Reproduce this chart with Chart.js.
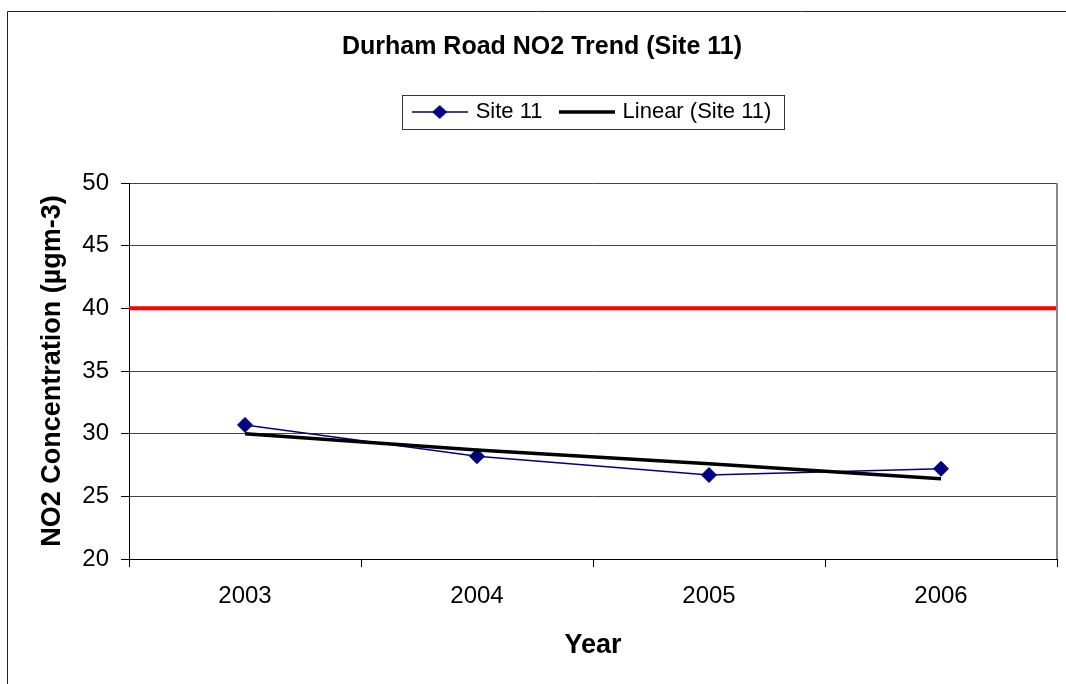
<!DOCTYPE html>
<html>
<head>
<meta charset="utf-8">
<script src="https://cdn.jsdelivr.net/npm/chart.js@4.4.1/dist/chart.umd.min.js"></script>
<style>
  html, body { margin: 0; padding: 0; background: #ffffff; overflow: hidden; }
  #c { display: block; }
</style>
</head>
<body>
<canvas id="c" width="1066" height="684"></canvas>
<script>
// ---- data ----
const years = ['2003', '2004', '2005', '2006'];
const site11 = [30.7, 28.2, 26.7, 27.2];
const linearSite11 = [30.0, 28.7, 27.6, 26.4];
const limitLabels = ['start', 'end'];
const limitValues = [40, 40];
const yMin = 20, yMax = 50, yStep = 5;

const chartTitle = 'Durham Road NO2 Trend (Site 11)';
const xTitle = 'Year';
const yTitle = 'NO2 Concentration (\u00B5gm-3)';
const seriesName = 'Site 11';
const trendName = 'Linear (Site 11)';

Chart.defaults.font.family = '"Liberation Sans", Arial, sans-serif';
Chart.defaults.color = '#000000';

// legend marker images
function makeMarker(drawFn) {
  const c = document.createElement('canvas');
  c.width = 56; c.height = 18;
  const g = c.getContext('2d');
  drawFn(g);
  return c;
}
const markerSite = makeMarker(g => {
  g.strokeStyle = '#000080'; g.lineWidth = 1.5;
  g.beginPath(); g.moveTo(0, 9); g.lineTo(56, 9); g.stroke();
  g.fillStyle = '#000080';
  g.beginPath(); g.moveTo(28, 2); g.lineTo(35.5, 9); g.lineTo(28, 16); g.lineTo(20.5, 9); g.closePath(); g.fill();
});
const markerTrend = makeMarker(g => {
  g.strokeStyle = '#000000'; g.lineWidth = 3.5;
  g.beginPath(); g.moveTo(0, 9); g.lineTo(56, 9); g.stroke();
});

const decorPlugin = {
  id: 'decor',
  afterDraw(chart) {
    const ctx = chart.ctx;
    const ca = chart.chartArea;
    ctx.save();
    // outer frame (left and top edges only; the rest runs off the picture)
    ctx.strokeStyle = '#222222'; ctx.lineWidth = 1;
    ctx.beginPath();
    ctx.moveTo(7.5, chart.height); ctx.lineTo(7.5, 11.5); ctx.lineTo(chart.width, 11.5);
    ctx.stroke();
    // plot area right border
    ctx.strokeStyle = '#888888'; ctx.lineWidth = 2;
    ctx.beginPath();
    ctx.moveTo(Math.round(ca.right), ca.top); ctx.lineTo(Math.round(ca.right), ca.bottom);
    ctx.stroke();
    // legend border
    const hb = chart.legend && chart.legend.legendHitBoxes;
    if (hb && hb.length) {
      const l = Math.min(...hb.map(h => h.left));
      const r = Math.max(...hb.map(h => h.left + h.width));
      const t = Math.min(...hb.map(h => h.top));
      const b = Math.max(...hb.map(h => h.top + h.height));
      ctx.strokeStyle = '#333333'; ctx.lineWidth = 1;
      ctx.strokeRect(Math.round(l - 13) + 0.5, Math.round(t - 6) + 0.5, Math.round(r - l + 25), Math.round(b - t + 12));
    }
    ctx.restore();
  }
};

new Chart(document.getElementById('c'), {
  type: 'line',
  data: {
    labels: years,
    datasets: [
      {
        label: trendName,
        data: linearSite11,
        borderColor: '#000000',
        borderWidth: 3.5,
        pointRadius: 0,
        fill: false,
        tension: 0,
        order: 0,
        xAxisID: 'x', yAxisID: 'y'
      },
      {
        label: seriesName,
        data: site11,
        borderColor: '#000080',
        backgroundColor: '#000080',
        borderWidth: 1.5,
        pointStyle: 'rectRot',
        pointRadius: 7.5,
        pointBorderWidth: 1,
        pointBackgroundColor: '#000080',
        pointBorderColor: '#000080',
        fill: false,
        tension: 0,
        order: 1,
        xAxisID: 'x', yAxisID: 'y'
      },
      {
        label: 'Limit',
        data: limitValues,
        borderColor: '#FF0000',
        borderWidth: 4,
        pointRadius: 0,
        fill: false,
        order: 2,
        xAxisID: 'x2', yAxisID: 'y'
      }
    ]
  },
  options: {
    responsive: false,
    animation: false,
    layout: { padding: { left: 27, right: 9, top: 0, bottom: 0 } },
    plugins: {
      title: {
        display: true,
        text: chartTitle,
        color: '#000000',
        font: { size: 25, weight: 'bold' },
        padding: { top: 32, bottom: 20 }
      },
      legend: {
        display: true,
        position: 'top',
        fullSize: false,
        labels: {
          usePointStyle: true,
          pointStyleWidth: 50,
          padding: 19,
          color: '#000000',
          font: { size: 22 },
          generateLabels: () => [
            { text: seriesName, pointStyle: markerSite, fillStyle: '#000080', strokeStyle: '#000080', lineWidth: 0, hidden: false, datasetIndex: 1, fontColor: '#000000' },
            { text: trendName, pointStyle: markerTrend, fillStyle: '#000000', strokeStyle: '#000000', lineWidth: 0, hidden: false, datasetIndex: 0, fontColor: '#000000' }
          ]
        }
      },
      tooltip: { enabled: false }
    },
    scales: {
      x: {
        type: 'category',
        position: 'bottom',
        offset: true,
        grid: { offset: true, drawOnChartArea: false, drawTicks: true, tickLength: 8, color: '#000000', lineWidth: 1 },
        border: { display: true, color: '#000000', width: 1 },
        ticks: { font: { size: 24 }, color: '#000000', padding: 15, maxRotation: 0 },
        title: { display: true, text: xTitle, color: '#000000', font: { size: 27, weight: 'bold' }, padding: { top: 0, bottom: 22 } },
        afterFit: s => { s.height = 125; }
      },
      x2: {
        type: 'category',
        labels: limitLabels,
        position: 'top',
        offset: false,
        display: true,
        grid: { display: false },
        ticks: { display: false },
        border: { display: false },
        afterFit: s => { s.height = 50; }
      },
      y: {
        type: 'linear',
        min: yMin,
        max: yMax,
        ticks: { stepSize: yStep, font: { size: 24 }, color: '#000000', padding: 12 },
        grid: { color: '#444444', lineWidth: 1, drawTicks: true, tickLength: 8, tickColor: '#000000' },
        border: { display: true, color: '#000000', width: 1 },
        title: { display: true, text: yTitle, color: '#000000', font: { size: 27, weight: 'bold' }, padding: { top: 9, bottom: 0 } },
        afterFit: s => { s.width = 102; }
      }
    }
  },
  plugins: [decorPlugin]
});
</script>
</body>
</html>
